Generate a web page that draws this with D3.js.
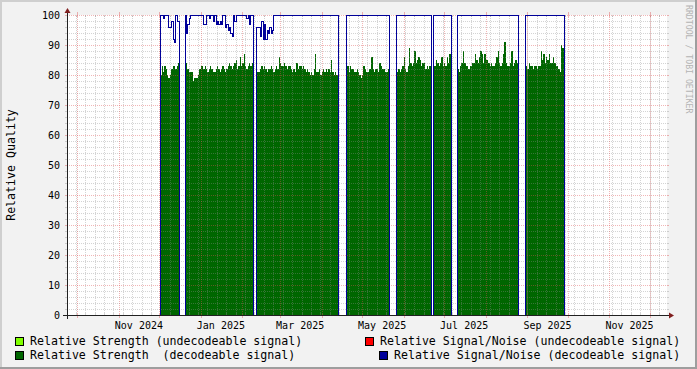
<!DOCTYPE html>
<html><head><meta charset="utf-8">
<script src="https://cdn.jsdelivr.net/npm/d3@7"></script>
<style>html,body{margin:0;padding:0;background:#f2f2f2}svg{display:block}</style>
</head><body>
<svg id="c" width="697" height="369"></svg>
<script>
// ---- data ----
const segmentStarts = ["2024-12-02","2024-12-20","2025-02-11","2025-04-19","2025-05-26","2025-06-23","2025-07-11","2025-08-30"];
const strength1 = [80,83,81,83,82,80,79,80,82,83,83,82,83,84];
const strength2 = [82,84,82,81,81,81,78,79,79,79,80,82,83,83,82,83,82,81,82,83,82,81,81,82,83,82,81,82,83,82,81,82,83,84,83,82,83,84,85,82,83,86,83,84,87,83,82,83,84,83,84];
const strength3 = [81,81,81,82,83,82,83,82,81,82,82,83,82,81,82,83,82,86,84,83,83,84,83,82,83,83,82,81,82,81,84,82,83,83,82,83,82,81,82,81,80,81,80,82,87,81,81,82,80,81,82,81,82,81,82,81,85,81,80,81,80];
const strength4 = [82,83,81,83,82,82,81,81,82,81,80,79,80,83,82,81,81,82,82,86,82,81,82,82,81,84,83,82,82,81,81,82];
const strength5 = [82,81,82,81,82,83,86,82,81,83,89,84,83,84,88,84,85,86,85,83,84,84,82,83,82,83];
const strength6 = [83,83,85,84,83,84,86,83,84,83,86,84,87];
const strength7 = [82,81,83,84,88,84,83,83,82,83,83,84,84,87,85,84,86,88,87,84,87,85,85,84,83,84,83,83,84,86,88,84,83,84,87,91,84,83,83,84,88,83,84,85,84];
const strength8 = [85,83,82,84,83,83,82,83,83,82,83,83,88,85,87,84,86,85,87,84,84,86,84,83,83,82,81,90,89];
const snr1 = [100,100,99,100,100,100,96,96,98,92,91,100,98,98];
const snr2 = [100,94,97,99,100,100,100,100,100,100,100,100,100,100,97,97,100,100,99,100,100,98,100,97,98,97,98,97,100,100,96,97,95,96,94,93,100,98,100,100,100,100,100,100,100,100,99,100,97,100,100];
const snr3 = [96,96,96,93,98,92,97,92,95,94,96,94,95,100,100,100,100,100,100,100,100,100,100,100,100,100,100,100,100,100,100,100,100,100,100,100,100,100,100,100,100,100,100,100,100,100,100,100,100,100,100,100,100,100,100,100,100,100,100,100,100];
const snr4 = [100,100,100,100,100,100,100,100,100,100,100,100,100,100,100,100,100,100,100,100,100,100,100,100,100,100,100,100,100,100,100,100];
const snr5 = [100,100,100,100,100,100,100,100,100,100,100,100,100,100,100,100,100,100,100,100,100,100,100,100,100,100];
const snr6 = [100,100,100,100,100,100,100,100,100,100,100,100,100];
const snr7 = [100,100,100,100,100,100,100,100,100,100,100,100,100,100,100,100,100,100,100,100,100,100,100,100,100,100,100,100,100,100,100,100,100,100,100,100,100,100,100,100,100,100,100,100,100];
const snr8 = [100,100,100,100,100,100,100,100,100,100,100,100,100,100,100,100,100,100,100,100,100,100,100,100,100,100,100,100,100];
const strengthSegments = [strength1,strength2,strength3,strength4,strength5,strength6,strength7,strength8];
const snrSegments = [snr1,snr2,snr3,snr4,snr5,snr6,snr7,snr8];
const yTickValues = [0,10,20,30,40,50,60,70,80,90,100];
const xLabelMonths = ["2024-11-01","2025-01-01","2025-03-01","2025-05-01","2025-07-01","2025-09-01","2025-11-01"];
const legendItems = [
  {label:"Relative Strength (undecodeable signal)", color:"#80ff00"},
  {label:"Relative Strength  (decodeable signal)", color:"#006600"},
  {label:"Relative Signal/Noise (undecodeable signal)", color:"#ff0000"},
  {label:"Relative Signal/Noise (decodeable signal)", color:"#000099"}
];
const yTitle = "Relative Quality";
const watermark = "RRDTOOL / TOBI OETIKER";

// ---- layout ----
const W=697, H=369, X0=67, X1=667, YT=15, YB=315;
const svg = d3.select("#c");
const FONT = "'DejaVu Sans Mono', monospace";
const DAY = 864e5;
const x = d3.scaleUtc().domain([new Date(Date.UTC(2024,8,23,12)), new Date(Date.UTC(2025,11,13,22))]).range([X0,X1]);
const y = d3.scaleLinear().domain([0,100]).range([YB,YT]);

// background + border
svg.append("rect").attr("width",W).attr("height",H).attr("fill","#f2f2f2");
svg.append("rect").attr("x",0).attr("y",0).attr("width",W).attr("height",2).attr("fill","#cfcfcf");
svg.append("rect").attr("x",0).attr("y",0).attr("width",2).attr("height",H).attr("fill","#cfcfcf");
svg.append("rect").attr("x",0).attr("y",H-2).attr("width",W).attr("height",2).attr("fill","#9e9e9e");
svg.append("rect").attr("x",W-2).attr("y",0).attr("width",2).attr("height",H).attr("fill","#9e9e9e");
// canvas
svg.append("rect").attr("x",X0).attr("y",YT).attr("width",X1-X0).attr("height",YB-YT).attr("fill","#ffffff");

function buildSeries(segs){
  const pts=[{t:x.domain()[0], v:0}];
  segmentStarts.forEach((s,i)=>{
    const t0 = new Date(s+"T00:00:00Z");
    segs[i].forEach((v,j)=>pts.push({t:new Date(+t0+j*DAY), v}));
    pts.push({t:new Date(+t0+segs[i].length*DAY), v:0});
  });
  pts.push({t:x.domain()[1], v:0});
  return pts;
}
const strengthSeries = buildSeries(strengthSegments);
const snrSeries = buildSeries(snrSegments);

const rx = d => Math.round(x(d.t));
svg.append("path").datum(strengthSeries)
  .attr("d", d3.area().curve(d3.curveStepAfter).x(rx).y0(YB+1).y1(d=>Math.round(y(d.v))))
  .attr("fill","#006600").attr("shape-rendering","crispEdges");

// grid (on top of area)
const gGrid = svg.append("g").attr("shape-rendering","crispEdges");
const minorCol = "rgba(143,143,143,0.38)", majorCol = "rgba(222,80,80,0.42)";
function ln(g,x1,y1,x2,y2,c,dash){
  const l=g.append("line").attr("x1",x1).attr("y1",y1).attr("x2",x2).attr("y2",y2).attr("stroke",c).attr("stroke-width",1);
  if(dash) l.attr("stroke-dasharray",dash);
}
d3.range(0,101,2).forEach(v=>{
  const yy = Math.round(y(v))+0.5;
  if (v%10===0){
    ln(gGrid,X0-2,yy,X0,yy,majorCol); ln(gGrid,X1,yy,X1+2,yy,majorCol);
    ln(gGrid,X0,yy,X1,yy,majorCol,"1,1");
  } else {
    ln(gGrid,X0-2,yy,X0,yy,minorCol); ln(gGrid,X1,yy,X1+2,yy,minorCol);
    ln(gGrid,X0,yy,X1,yy,minorCol,"1,1");
  }
});
const months = d3.utcMonth.range(x.domain()[0], x.domain()[1]);
const mondays = d3.utcMonday.range(x.domain()[0], x.domain()[1]);
mondays.forEach(t=>{
  const xx = Math.round(x(t))+0.5;
  ln(gGrid,xx,YB-2,xx,YB,minorCol); ln(gGrid,xx,YT,xx,YT+2,minorCol);
  ln(gGrid,xx,YT+1,xx,YB-1,minorCol,"1,1");
});
months.forEach(t=>{
  const xx = Math.round(x(t))+0.5;
  ln(gGrid,xx,YB-2,xx,YB+3,majorCol); ln(gGrid,xx,YT-3,xx,YT+2,majorCol);
  ln(gGrid,xx,YT+2,xx,YB-2,majorCol,"1,1");
});

// S/N line on top
svg.append("path").datum(snrSeries)
  .attr("d", d3.line().curve(d3.curveStepAfter).x(d=>rx(d)+0.5).y(d=>Math.round(y(d.v))+0.5))
  .attr("fill","none").attr("stroke","#000099").attr("stroke-width",1).attr("shape-rendering","crispEdges");

// axes
const gAx = svg.append("g").attr("shape-rendering","crispEdges");
ln(gAx,X0-4,YB+0.5,X1+4,YB+0.5,"#202020");
ln(gAx,X0+0.5,YB+4,X0+0.5,YT-4,"#202020");
svg.append("path").attr("d",`M${X1+2},${YB+0.5-3}L${X1+2},${YB+0.5+3}L${X1+7},${YB+0.5}Z`).attr("fill","#801f1f");
svg.append("path").attr("d",`M${X0+0.5-3},${YT-2}L${X0+0.5+3},${YT-2}L${X0+0.5},${YT-7}Z`).attr("fill","#801f1f");

// y labels
svg.append("g").selectAll("text").data(yTickValues).join("text")
  .attr("x",60).attr("y",v=>y(v)+3.6).attr("text-anchor","end")
  .attr("font-family",FONT).attr("font-size","10px").attr("fill","#000").text(v=>v);
// x labels
const fmt = d3.utcFormat("%b %Y");
svg.append("g").selectAll("text").data(xLabelMonths).join("text")
  .attr("x",s=>x(new Date(+new Date(s+"T00:00:00Z")+15*DAY))).attr("y",328.7).attr("text-anchor","middle")
  .attr("font-family",FONT).attr("font-size","10px").attr("fill","#000").text(s=>fmt(new Date(s+"T00:00:00Z")));

// y title
svg.append("text").attr("transform","translate(14.5,165) rotate(-90)").attr("text-anchor","middle")
  .attr("font-family",FONT).attr("font-size","11.6px").attr("fill","#000").text(yTitle);
// watermark
svg.append("text").attr("transform","translate(685.5,5) rotate(90)").attr("text-anchor","start")
  .attr("font-family",FONT).attr("font-size","8.2px").attr("fill","#b4b4b4").text(watermark);

// legend
const legPos = [{sx:15,sy:337,tx:30,ty:345},{sx:15,sy:351,tx:30,ty:359},{sx:365,sy:337,tx:380,ty:345},{sx:379,sy:351,tx:394,ty:359}];
const gLeg = svg.append("g");
legendItems.forEach((it,i)=>{
  const p = legPos[i];
  gLeg.append("rect").attr("x",p.sx+0.5).attr("y",p.sy+0.5).attr("width",8).attr("height",8)
    .attr("fill",it.color).attr("stroke","#000").attr("stroke-width",1).attr("shape-rendering","crispEdges");
  gLeg.append("text").attr("x",p.tx).attr("y",p.ty).attr("font-family",FONT).attr("font-size","11.6px")
    .attr("fill","#000").attr("xml:space","preserve").style("white-space","pre").text(it.label);
});
</script>
</body></html>
